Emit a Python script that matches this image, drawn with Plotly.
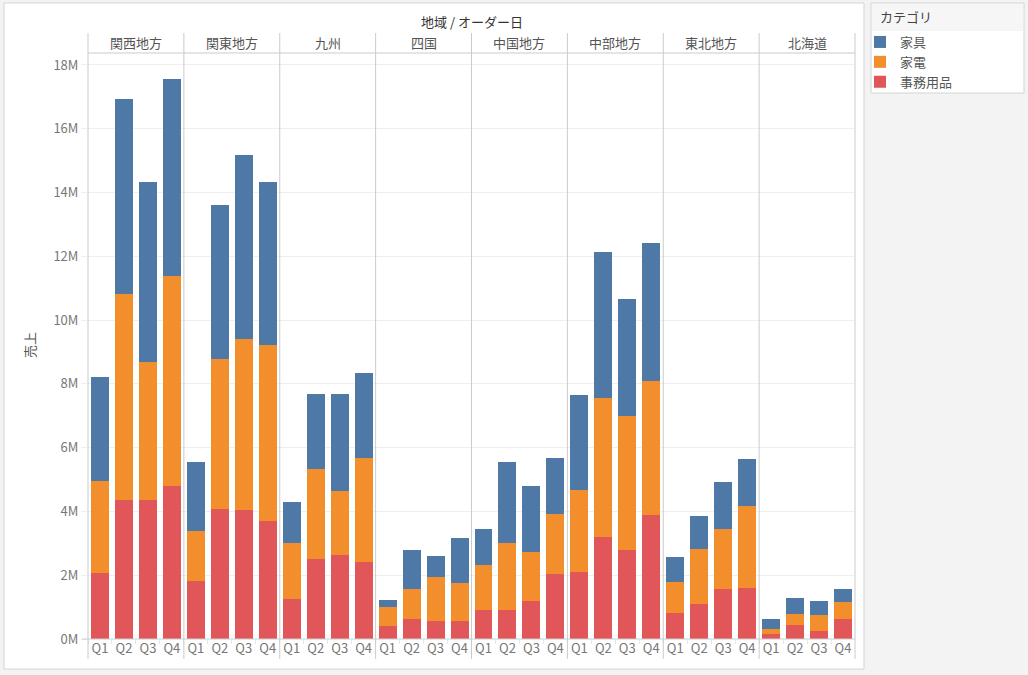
import plotly.graph_objects as go
from plotly.subplots import make_subplots

# 売上 (単位: 百万), 地域ごとに Q1-Q4
regions = ["関西地方", "関東地方", "九州", "四国", "中国地方", "中部地方", "東北地方", "北海道"]
quarters = ["Q1", "Q2", "Q3", "Q4"]

office = [  # 事務用品
    [2.06, 4.36, 4.36, 4.79],
    [1.81, 4.07, 4.04, 3.71],
    [1.26, 2.51, 2.64, 2.43],
    [0.41, 0.63, 0.56, 0.56],
    [0.91, 0.91, 1.19, 2.04],
    [2.11, 3.20, 2.79, 3.89],
    [0.82, 1.10, 1.57, 1.60],
    [0.16, 0.44, 0.25, 0.63],
]
appliance = [  # 家電
    [2.89, 6.47, 4.33, 6.58],
    [1.57, 4.72, 5.37, 5.51],
    [1.75, 2.82, 2.00, 3.25],
    [0.59, 0.94, 1.39, 1.20],
    [1.41, 2.10, 1.54, 1.88],
    [2.56, 4.35, 4.20, 4.19],
    [0.97, 1.72, 1.88, 2.57],
    [0.15, 0.34, 0.50, 0.53],
]
furniture = [  # 家具
    [3.27, 6.09, 5.63, 6.18],
    [2.17, 4.81, 5.76, 5.10],
    [1.29, 2.36, 3.05, 2.67],
    [0.22, 1.22, 0.65, 1.41],
    [1.13, 2.54, 2.07, 1.75],
    [2.97, 4.60, 3.66, 4.35],
    [0.78, 1.04, 1.47, 1.47],
    [0.32, 0.51, 0.44, 0.41],
]

series = [
    ("事務用品", office, "#e15759"),
    ("家電", appliance, "#f28e2b"),
    ("家具", furniture, "#4e79a7"),
]

FONT = "Noto Sans CJK JP"
LINE = "#cbcbcb"
GRID = "#efefef"

# 画素位置 -> paper 座標 (プロット領域 x:88-855, y:53-639)
PW, PH = 767, 586


def px(x):
    return (x - 88) / PW


def py(y):
    return (639 - y) / PH


def label(text, x, y, size=13, color="#555555", **kw):
    opts = dict(xanchor="center", yanchor="middle")
    opts.update(kw)
    fig.add_annotation(text=text, x=x, y=y, xref="paper", yref="paper",
                       showarrow=False, font=dict(size=size, color=color), **opts)


fig = make_subplots(rows=1, cols=8, shared_yaxes=True, horizontal_spacing=0)

for i, region in enumerate(regions):
    for name, values, color in series:
        fig.add_trace(
            go.Bar(
                x=quarters,
                y=values[i],
                name=name,
                marker_color=color,
                marker_line_width=0,
                legendgroup=name,
                showlegend=(i == 0),
                hovertemplate=region + " %{x}<br>" + name + ": %{y:.2f}M<extra></extra>",
            ),
            row=1,
            col=i + 1,
        )
    label(region, (i + 0.5) / 8, py(43))

fig.update_xaxes(
    showgrid=False, ticks="outside", tickson="boundaries", ticklen=4,
    tickcolor="#e6e6e6", tickfont=dict(size=13, color="#777777"), tickangle=0,
    showline=False, zeroline=False,
)
fig.update_yaxes(
    range=[0, 18.375], tick0=0, dtick=2, ticksuffix="M",
    showgrid=True, gridcolor=GRID, gridwidth=1, zeroline=False, ticks="",
    tickfont=dict(size=13, color="#777777"), showline=False,
)
fig.update_yaxes(ticks="outside", ticklen=6, tickcolor=GRID, row=1, col=1)

shapes = [
    # 白いパネル
    dict(type="rect", xref="paper", yref="paper", x0=px(4), x1=px(864), y0=py(669), y1=py(3),
         fillcolor="white", line=dict(color="#d4d4d4", width=1), layer="below"),
    # 凡例の枠
    dict(type="rect", xref="paper", yref="paper", x0=px(871), x1=px(1024), y0=py(93), y1=py(3),
         fillcolor="white", line=dict(color="#d4d4d4", width=1), layer="below"),
    dict(type="rect", xref="paper", yref="paper", x0=px(872), x1=px(1023), y0=py(31), y1=py(4),
         fillcolor="#f6f6f6", line=dict(width=0), layer="below"),
    # ヘッダー下の線, ゼロ線
    dict(type="line", xref="paper", yref="paper", x0=0, x1=1, y0=1, y1=1,
         line=dict(color=LINE, width=1)),
    dict(type="line", xref="paper", yref="paper", x0=px(82), x1=1, y0=0, y1=0,
         line=dict(color=LINE, width=1)),
]
for k in range(9):
    shapes.append(dict(type="line", xref="paper", yref="paper", x0=k / 8, x1=k / 8,
                       y0=py(659), y1=py(33), line=dict(color=LINE, width=1)))

label("地域 / オーダー日", 0.5, py(21), color="#333333")
label("売上", px(29), py(345), textangle=-90)
label("カテゴリ", px(878), py(17), color="#444444", xanchor="left")

fig.update_layout(
    width=1028,
    height=675,
    barmode="stack",
    bargap=0.25,
    font=dict(family=FONT, color="#555555"),
    paper_bgcolor="#f3f3f3",
    plot_bgcolor="white",
    margin=dict(l=88, r=173, t=53, b=36),
    shapes=shapes,
    legend=dict(
        x=px(860), y=py(27), xanchor="left", yanchor="top",
        bgcolor="rgba(0,0,0,0)", font=dict(size=13, color="#555555"),
        traceorder="reversed", itemwidth=30, tracegroupgap=0,
    ),
)

fig.write_html("out.html", config={"displayModeBar": False},
               post_script="document.body.style.margin='0';")
